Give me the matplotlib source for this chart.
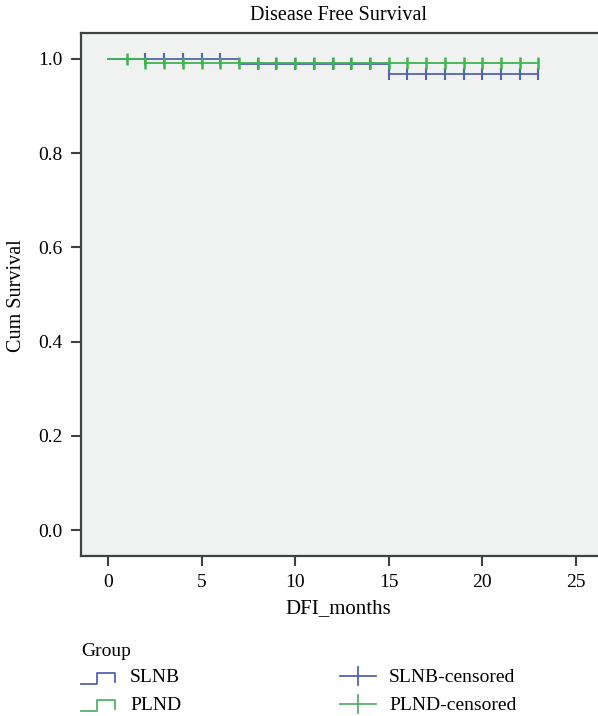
import numpy as np
import matplotlib
matplotlib.use("Agg")
import matplotlib.pyplot as plt
from matplotlib.lines import Line2D

plt.rcParams['font.family'] = ['Liberation Serif', 'DejaVu Serif']

# --- Data ---
slnb_t = [0, 7, 15, 23]
slnb_s = [1.0, 0.99, 0.968, 0.968]
slnb_cens = [2, 3, 4, 5, 6, 8, 9, 10, 11, 12, 13, 14, 15, 16, 17, 18, 19, 20, 21, 22, 23]

plnd_t = [0, 2, 23]
plnd_s = [1.0, 0.991, 0.991]
plnd_cens = [1, 2, 3, 4, 5, 6, 7, 8, 9, 10, 11, 12, 13, 14, 15, 16, 17, 18, 19, 20, 21, 22, 23]

x_ticks = [0, 5, 10, 15, 20, 25]
y_ticks = [0.0, 0.2, 0.4, 0.6, 0.8, 1.0]

blue = '#5465b0'
green = '#3fb44e'

W, H = 598, 716


def surv_at(times, surv, t):
    # value of the step function (post) at time t
    idx = np.searchsorted(times, t, side='right') - 1
    return np.asarray(surv)[idx]


def px(x, y):
    # figure pixel (from top-left) -> figure fraction
    return x / W, 1 - y / H


fig = plt.figure(figsize=(W / 100, H / 100), dpi=100)
ax = fig.add_axes([81 / W, 1 - 556 / H, 529 / W, 523 / H])
ax.set_facecolor('#f0f1f1')

ax.step(slnb_t, slnb_s, where='post', color=blue, lw=1.3)
ax.plot(slnb_cens, surv_at(slnb_t, slnb_s, slnb_cens), ls='none', marker='|',
        ms=8, mew=1.5, color=blue)
ax.step(plnd_t, plnd_s, where='post', color=green, lw=1.3)
ax.plot(plnd_cens, surv_at(plnd_t, plnd_s, plnd_cens), ls='none', marker='|',
        ms=8, mew=1.8, color=green)

ax.set_xlim(-1.44, 26.82)
ax.set_ylim(-0.055, 1.055)
ax.set_xticks(x_ticks)
ax.set_yticks(y_ticks)
ax.set_yticklabels([f'{v:.1f}' for v in y_ticks])
ax.tick_params(direction='out', length=7, width=1.5, color='#404040',
               labelsize=14, pad=6)
for side in ['top', 'left', 'bottom']:
    ax.spines[side].set_linewidth(1.6)
    ax.spines[side].set_color('#404040')
ax.spines['right'].set_visible(False)

fig.text(*px(338, 16), 'Disease Free Survival', fontsize=14.5, ha='center', va='center')
fig.text(*px(338, 609), 'DFI_months', fontsize=15, ha='center', va='center')
fig.text(*px(17, 296), 'Cum Survival', fontsize=14.5, ha='center', va='center',
         rotation=90)

# --- Legend, drawn by hand below the axes ---
fs_leg = 14
fig.text(*px(81, 651), 'Group', fontsize=fs_leg, va='center')
legend_rows = [('SLNB', blue, 0), ('PLND', '#5aae6a', 27)]
for name, col, dy in legend_rows:
    xs = [81, 97, 97, 115, 115]
    ys = [684 + dy, 684 + dy, 673 + dy, 673 + dy, 682 + dy]
    fx, fy = zip(*[px(a, b) for a, b in zip(xs, ys)])
    fig.add_artist(Line2D(fx, fy, color=col, lw=1.3, transform=fig.transFigure))
    fig.text(*px(130, 678 + dy), name, fontsize=fs_leg, va='center')

cens_rows = [('SLNB-censored', blue, 0), ('PLND-censored', '#5aae6a', 28)]
for name, col, dy in cens_rows:
    fx, fy = zip(px(340, 676 + dy), px(376, 676 + dy))
    fig.add_artist(Line2D(fx, fy, color=col, lw=1.3, transform=fig.transFigure))
    fx, fy = zip(px(358, 667 + dy), px(358, 685 + dy))
    fig.add_artist(Line2D(fx, fy, color=col, lw=1.3, transform=fig.transFigure))
    fig.text(*px(389, 677 + dy), name, fontsize=fs_leg, va='center')

fig.savefig('out.png', dpi=100)
